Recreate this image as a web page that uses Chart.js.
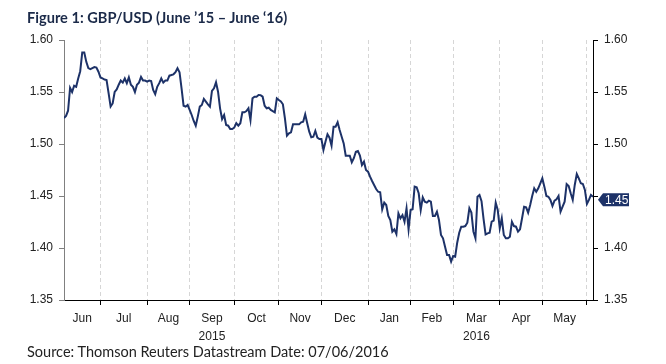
<!DOCTYPE html>
<html>
<head>
<meta charset="utf-8">
<script src="https://cdn.jsdelivr.net/npm/chart.js@4/dist/chart.umd.min.js"></script>
<style>
    body { margin: 0; background: #fff; }
    #wrap { position: relative; width: 666px; height: 364px; }
    #title { position: absolute; left: 27px; top: 9px; font: bold 14.6px Lato, "Open Sans", sans-serif; color: #1b2a49; white-space: nowrap; }
    #source { position: absolute; left: 27px; top: 343px; font: 14.5px Lato, "Open Sans", sans-serif; color: #222; white-space: nowrap; }
</style>
</head>
<body>
<div id="wrap">
    <canvas id="chart" width="666" height="364"></canvas>
    <div id="title">Figure 1: GBP/USD (June ’15 – June ‘16)</div>
    <div id="source">Source: Thomson Reuters Datastream Date: 07/06/2016</div>
</div>
<script>
// GBP/USD daily close, one value per business day from 05/06/2015 to 06/06/2016
const rates = [
    1.525, 1.527, 1.532, 1.554, 1.550, 1.556, 1.555, 1.563, 1.570, 1.588,
    1.588, 1.579, 1.573, 1.572, 1.573, 1.574, 1.5735, 1.5695, 1.564, 1.563,
    1.562, 1.5615, 1.549, 1.536, 1.539, 1.550, 1.5525, 1.557, 1.561, 1.559,
    1.563, 1.5585, 1.564, 1.557, 1.555, 1.550, 1.557, 1.559, 1.5645, 1.561,
    1.561, 1.560, 1.561, 1.5605, 1.552, 1.548, 1.555, 1.5585, 1.563, 1.559,
    1.561, 1.561, 1.5657, 1.5663, 1.567, 1.569, 1.5728, 1.569, 1.5536, 1.5368,
    1.5359, 1.5375, 1.5327, 1.5279, 1.5221, 1.5176, 1.5263, 1.5359, 1.5375, 1.5433,
    1.5407, 1.5382, 1.5359, 1.551, 1.5536, 1.5593, 1.5503, 1.5343, 1.524, 1.5279,
    1.5183, 1.5176, 1.5144, 1.5144, 1.5157, 1.52, 1.5176, 1.52, 1.5305, 1.5305,
    1.5317, 1.5343, 1.523, 1.5439, 1.5455, 1.5455, 1.5471, 1.547, 1.5455, 1.5368,
    1.5343, 1.5349, 1.5327, 1.5317, 1.5305, 1.5439, 1.5423, 1.541, 1.5382, 1.5247,
    1.508, 1.5103, 1.5112, 1.5189, 1.5189, 1.519, 1.5189, 1.5209, 1.5215, 1.5286,
    1.52, 1.5119, 1.5064, 1.507, 1.5125, 1.5061, 1.5048, 1.5048, 1.4942, 1.5022,
    1.5093, 1.5061, 1.4984, 1.5167, 1.5167, 1.5209, 1.5135, 1.507, 1.5006, 1.4888,
    1.4888, 1.4888, 1.4824, 1.4863, 1.4926, 1.4933, 1.4888, 1.4798, 1.483, 1.475,
    1.4734, 1.4686, 1.4644, 1.4606, 1.4567, 1.4541, 1.4535, 1.4372, 1.4436, 1.4413,
    1.4308, 1.4269, 1.4157, 1.418, 1.4135, 1.4334, 1.4286, 1.4317, 1.4253, 1.4382,
    1.418, 1.4365, 1.4372, 1.459, 1.4583, 1.4526, 1.4365, 1.4487, 1.4445, 1.4436,
    1.4455, 1.4445, 1.4308, 1.4308, 1.4349, 1.4269, 1.4125, 1.4093, 1.4013, 1.3933,
    1.3933, 1.3869, 1.3923, 1.3916, 1.4051, 1.4147, 1.4205, 1.4205, 1.4211, 1.4243,
    1.4382, 1.434, 1.4157, 1.4093, 1.4493, 1.451, 1.445, 1.428, 1.413, 1.4141,
    1.4147, 1.4253, 1.4263, 1.4436, 1.4365, 1.419, 1.4286, 1.4125, 1.4093, 1.4093,
    1.4109, 1.4253, 1.4211, 1.4205, 1.4157, 1.418, 1.4286, 1.4397, 1.4391, 1.434,
    1.4413, 1.45, 1.4574, 1.4541, 1.4574, 1.4622, 1.467, 1.459, 1.45, 1.4493,
    1.4462, 1.4404, 1.4455, 1.4468, 1.45, 1.4349, 1.4397, 1.4445, 1.4615, 1.4596,
    1.4526, 1.4462, 1.4606, 1.4712, 1.467, 1.4622, 1.4615, 1.4558, 1.4423, 1.4462,
    1.451, 1.4493
];

// business-day index where each month begins (Jul 2015 ... Jun 2016)
const monthStarts = [18, 41, 62, 84, 106, 127, 150, 171, 192, 215, 236, 258];
const monthNames = [['Jun'], ['Jul'], ['Aug'], ['Sep', '2015'], ['Oct'], ['Nov'], ['Dec'], ['Jan'], ['Feb'], ['Mar', '2016'], ['Apr'], ['May']];
const yTicks = [1.35, 1.40, 1.45, 1.50, 1.55, 1.60];

const navy = '#1d3268';
const lastRate = rates[rates.length - 1];
const monthMids = monthNames.map((name, k) => ((k ? monthStarts[k - 1] : 0) + monthStarts[k]) / 2);
const isBoundary = ctx => ctx.tick && monthStarts.includes(ctx.tick.value);
const tickFont = { family: '"Liberation Sans", Arial, sans-serif', size: 12, lineHeight: 1.54 };

const lastValueTag = {
    id: 'lastValueTag',
    afterDraw(chart) {
        const ctx = chart.ctx;
        const y = chart.scales.y2.getPixelForValue(lastRate) + 3;
        const x = chart.chartArea.right + 5;
        ctx.save();
        ctx.fillStyle = navy;
        ctx.beginPath();
        ctx.moveTo(x, y);
        ctx.lineTo(x + 5, y - 6.5);
        ctx.lineTo(x + 31, y - 6.5);
        ctx.lineTo(x + 31, y + 6.5);
        ctx.lineTo(x + 5, y + 6.5);
        ctx.closePath();
        ctx.fill();
        ctx.fillStyle = '#fff';
        ctx.font = '12px "Liberation Sans", Arial, sans-serif';
        ctx.textBaseline = 'middle';
        ctx.fillText(lastRate.toFixed(2), x + 7, y + 0.5);
        ctx.restore();
    }
};

function yAxis(position, width, lineColor, hideLast) {
    return {
        type: 'linear',
        position: position,
        min: 1.35,
        max: 1.60,
        afterBuildTicks: axis => { axis.ticks = yTicks.map(v => ({ value: v })); },
        afterFit: axis => { axis.width = width; },
        ticks: {
            color: '#222',
            font: tickFont,
            padding: 6,
            // the last-value tag sits over the matching label on the right
            callback: v => (hideLast && v.toFixed(2) === lastRate.toFixed(2)) ? '' : v.toFixed(2)
        },
        grid: { drawOnChartArea: false, tickLength: 5, tickColor: lineColor },
        border: { color: lineColor, width: 1 }
    };
}

new Chart(document.querySelector('#chart'), {
    type: 'line',
    data: {
        datasets: [{
            data: rates.map((v, i) => ({ x: i, y: v })),
            borderColor: navy,
            borderWidth: 2,
            pointRadius: 0,
            tension: 0,
            fill: false,
            yAxisID: 'y'
        }]
    },
    options: {
        responsive: false,
        animation: false,
        layout: { padding: { left: 0, right: 0, top: 40, bottom: 19 } },
        plugins: { legend: { display: false }, tooltip: { enabled: false } },
        scales: {
            x: {
                type: 'linear',
                min: 0,
                max: rates.length - 1,
                afterBuildTicks: axis => {
                    axis.ticks = monthStarts.concat(monthMids).sort((a, b) => a - b).map(v => ({ value: v }));
                },
                afterFit: axis => { axis.height = 45; },
                ticks: {
                    autoSkip: false,
                    maxRotation: 0,
                    color: '#222',
                    font: tickFont,
                    padding: 4,
                    callback: value => {
                        const k = monthMids.indexOf(value);
                        return k >= 0 ? monthNames[k] : '';
                    }
                },
                grid: {
                    color: ctx => isBoundary(ctx) ? '#d6d6d6' : 'rgba(0,0,0,0)',
                    tickColor: ctx => isBoundary(ctx) ? '#000' : 'rgba(0,0,0,0)',
                    tickLength: 5,
                    lineWidth: 1
                },
                border: { color: '#000', width: 1, dash: [4, 3] }
            },
            y: yAxis('left', 64, '#808080', false),
            y2: yAxis('right', 73, '#000', true)
        }
    },
    plugins: [lastValueTag]
});
</script>
</body>
</html>
